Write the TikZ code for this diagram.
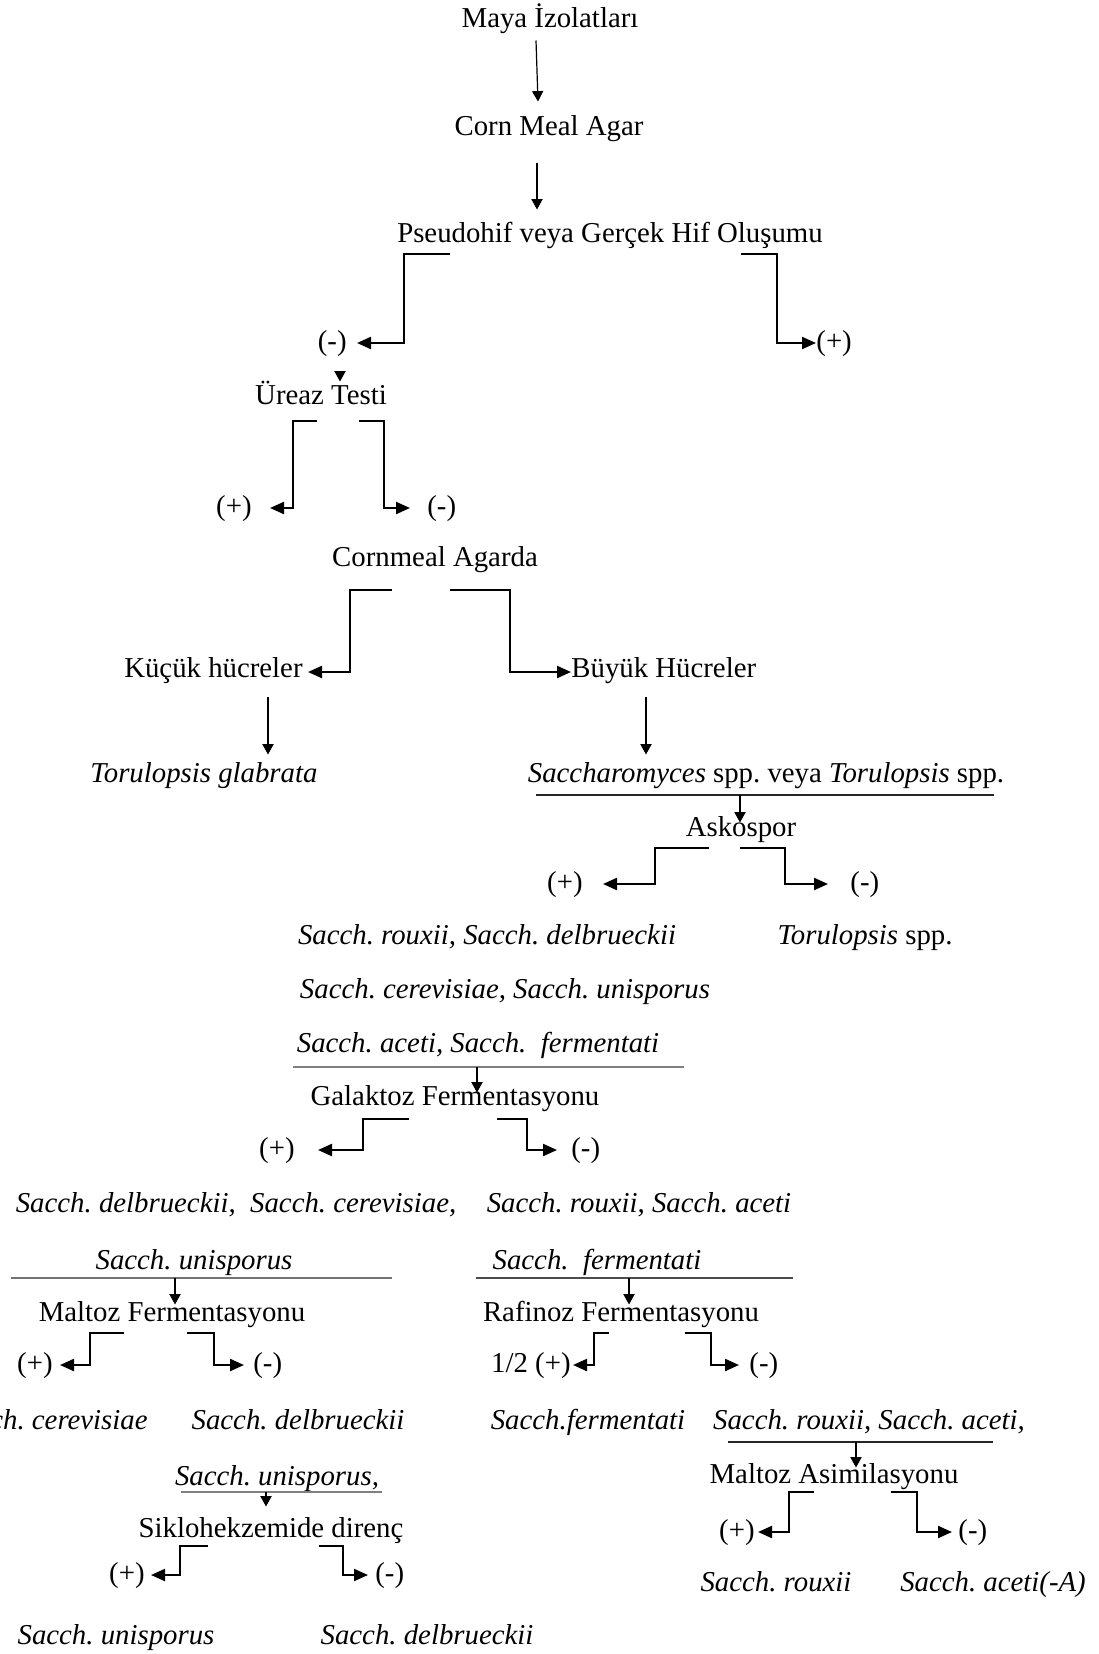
\documentclass[tikz,border=0pt]{standalone}
\usepackage{fontspec}
\setmainfont{Liberation Serif}
\usetikzlibrary{arrows.meta,calc}
\newcommand\flowfont{\fontsize{14.4pt}{17pt}\selectfont\frenchspacing}
\begin{document}
\begin{tikzpicture}[x=0.5pt,y=-0.5pt,
  txt/.style={inner sep=0pt, text height=10pt, text depth=2.6pt, font=\flowfont},
  it/.style={txt, font=\flowfont\itshape},
  br/.style={line width=1.1pt, -{Triangle[length=7pt,width=6pt]}},
  ar/.style={line width=0.6pt, -{Triangle[length=5.2pt,width=5.6pt]}},
  rule/.style={line width=0.8pt}]
\useasboundingbox (0,0) rectangle (1098,1654);
\clip (0,0) rectangle (1098,1654);

% ---- main steps
\node[txt] (maya)     at (550,20)   {Maya İzolatları};
\node[txt] (cma)      at (549,128)  {Corn Meal Agar};
\node[txt] (pseudo)   at (610,235)  {Pseudohif veya Gerçek Hif Oluşumu};
\node[txt, anchor=east] (p1neg) at (347,343) {(-)};
\node[txt, anchor=west] (p1pos) at (816,343) {(+)};
\node[txt] (ureaz)    at (321,397)  {Üreaz Testi};
\node[txt, anchor=east] (upos) at (252,508) {(+)};
\node[txt, anchor=west] (uneg) at (427,508) {(-)};
\node[txt] (agarda)   at (435,559)  {Cornmeal Agarda};
\node[txt, anchor=east] (kucuk) at (303,670) {Küçük hücreler};
\node[txt, anchor=west] (buyuk) at (571,670) {Büyük Hücreler};
\node[it]  (tglab)    at (204,775)  {Torulopsis glabrata};
\node[txt] (sacspp)   at (766,775)  {\textit{Saccharomyces} spp. veya \textit{Torulopsis} spp.};
\node[txt] (askospor) at (741,829)  {Askospor};
\node[txt, anchor=east] (apos) at (583,884) {(+)};
\node[txt, anchor=west] (aneg) at (850,884) {(-)};
\node[it]  (s1)       at (487,937)  {Sacch. rouxii, Sacch. delbrueckii};
\node[txt] (torspp)   at (865,937)  {\textit{Torulopsis} spp.};
\node[it]  (s2)       at (505,991)  {Sacch. cerevisiae, Sacch. unisporus};
\node[it]  (s3)       at (478,1045) {Sacch. aceti, Sacch.\ \ fermentati};
\node[txt] (galaktoz) at (455,1098) {Galaktoz Fermentasyonu};
\node[txt, anchor=east] (gpos) at (295,1150) {(+)};
\node[txt, anchor=west] (gneg) at (571,1150) {(-)};
\node[it]  (s4)       at (236,1205) {Sacch. delbrueckii,\ \ Sacch. cerevisiae,};
\node[it]  (s5)       at (639,1205) {Sacch. rouxii, Sacch. aceti};
\node[it]  (s6)       at (194,1262) {Sacch. unisporus};
\node[it]  (s7)       at (597,1262) {Sacch.\ \ fermentati};
\node[txt] (maltozf)  at (172,1314) {Maltoz Fermentasyonu};
\node[txt] (rafinoz)  at (621,1314) {Rafinoz Fermentasyonu};
\node[txt, anchor=east] (mfpos) at (53,1365)  {(+)};
\node[txt, anchor=west] (mfneg) at (253,1365) {(-)};
\node[txt, anchor=east] (rfpos) at (571,1365) {1/2 (+)};
\node[txt, anchor=west] (rfneg) at (749,1365) {(-)};
\node[it, anchor=east] (s8) at (148,1422) {Sacch. cerevisiae};
\node[it]  (s9)       at (298,1422) {Sacch. delbrueckii};
\node[it]  (s10)      at (588,1422) {Sacch.fermentati};
\node[it]  (s11)      at (869,1422) {Sacch. rouxii, Sacch. aceti,};
\node[it]  (s12)      at (277,1478) {Sacch. unisporus,};
\node[txt] (maltoza)  at (834,1476) {Maltoz Asimilasyonu};
\node[txt] (siklo)    at (271,1530) {Siklohekzemide direnç};
\node[txt, anchor=east] (mapos) at (755,1532) {(+)};
\node[txt, anchor=west] (maneg) at (958,1532) {(-)};
\node[txt, anchor=east] (skpos) at (145,1575) {(+)};
\node[txt, anchor=west] (skneg) at (375,1575) {(-)};
\node[it]  (s13)      at (776,1584) {Sacch. rouxii};
\node[it]  (s14)      at (993,1584) {Sacch. aceti(-A)};
\node[it]  (s15)      at (116,1637) {Sacch. unisporus};
\node[it]  (s16)      at (427,1637) {Sacch. delbrueckii};

% ---- straight arrows
\draw[ar] ($(maya.south)+(-14,7.5)$) -- ($(cma.north)+(-11,-13.5)$);
\draw[ar] ($(cma.south)+(-12,21.5)$) -- ($(pseudo.north)+(-73,-12.5)$);
\draw[ar] ($(p1neg.south east)+(-7,16.5)$) -- ($(ureaz.north)+(19,-2.5)$);
\draw[ar] ($(kucuk.south east)+(-35,13.5)$) -- ($(tglab.north)+(64,-7.5)$);
\draw[ar] ($(buyuk.south west)+(75,13.5)$) -- ($(sacspp.north)+(-120,-7.5)$);

% ---- group rules with their arrows
\draw[rule, black!85] (536,795) coordinate (l1a) -- (994,795) coordinate (l1b);
\coordinate (l1m) at (740,795);
\draw[ar] (l1m) -- ($(askospor.north)+(-1,6.5)$);

\draw[rule, black!50] (293,1067) coordinate (l2a) -- (684,1067) coordinate (l2b);
\coordinate (l2m) at (477,1067);
\draw[ar] (l2m) -- ($(galaktoz.north)+(22,7.5)$);

\draw[rule, black!55] (11,1278) coordinate (l3a) -- (392,1278) coordinate (l3b);
\coordinate (l3m) at (175,1278);
\draw[ar] (l3m) -- ($(maltozf.north)+(3,3.5)$);

\draw[rule, black!70] (476,1278) coordinate (l4a) -- (793,1278) coordinate (l4b);
\coordinate (l4m) at (629,1278);
\draw[ar] (l4m) -- ($(rafinoz.north)+(8,3.5)$);

\draw[rule, black!85] (728,1442) coordinate (l5a) -- (993,1442) coordinate (l5b);
\coordinate (l5m) at (856,1442);
\draw[ar] (l5m) -- ($(maltoza.north)+(22,4.5)$);

\draw[rule, black!50] (181,1492) coordinate (l6a) -- (382,1492) coordinate (l6b);
\coordinate (l6m) at (266,1492);
\draw[ar] (l6m) -- ($(siklo.north)+(-5,-10.5)$);

% ---- branching brackets
\coordinate (b1l) at (450,254);  \draw[br] (b1l) -- ++(-46,0) |- ($(p1neg.east)+(10,0)$);
\coordinate (b1r) at (741,254);  \draw[br] (b1r) -- ++(36,0)  |- (p1pos.west);
\coordinate (b2l) at (317,421);  \draw[br] (b2l) -- ++(-24,0) |- ($(upos.east)+(18,0)$);
\coordinate (b2r) at (359,421);  \draw[br] (b2r) -- ++(25,0)  |- ($(uneg.west)+(-17,0)$);
\coordinate (b3l) at (392,590);  \draw[br] (b3l) -- ++(-42,0) |- ($(kucuk.east)+(5,2)$);
\coordinate (b3r) at (450,590);  \draw[br] (b3r) -- ++(60,0)  |- ($(buyuk.west)+(0,2)$);
\coordinate (b4l) at (709,848);  \draw[br] (b4l) -- ++(-54,0) |- ($(apos.east)+(20,0)$);
\coordinate (b4r) at (740,848);  \draw[br] (b4r) -- ++(45,0)  |- ($(aneg.west)+(-22,0)$);
\coordinate (b5l) at (409,1119); \draw[br] (b5l) -- ++(-46,0) |- ($(gpos.east)+(23,0)$);
\coordinate (b5r) at (497,1119); \draw[br] (b5r) -- ++(30,0)  |- ($(gneg.west)+(-14,0)$);
\coordinate (b6l) at (124,1333); \draw[br] (b6l) -- ++(-34,0) |- ($(mfpos.east)+(7,0)$);
\coordinate (b6r) at (187,1333); \draw[br] (b6r) -- ++(27,0)  |- ($(mfneg.west)+(-9,0)$);
\coordinate (b7l) at (609,1333); \draw[br] (b7l) -- ++(-15,0) |- ($(rfpos.east)+(2,0)$);
\coordinate (b7r) at (685,1333); \draw[br] (b7r) -- ++(26,0)  |- ($(rfneg.west)+(-10,0)$);
\coordinate (b8l) at (814,1492); \draw[br] (b8l) -- ++(-25,0) |- ($(mapos.east)+(3,0)$);
\coordinate (b8r) at (891,1492); \draw[br] (b8r) -- ++(26,0)  |- ($(maneg.west)+(-6,0)$);
\coordinate (b9l) at (208,1546); \draw[br] (b9l) -- ++(-28,0) |- ($(skpos.east)+(6,0)$);
\coordinate (b9r) at (319,1546); \draw[br] (b9r) -- ++(24,0)  |- ($(skneg.west)+(-7,0)$);
\end{tikzpicture}
\end{document}
